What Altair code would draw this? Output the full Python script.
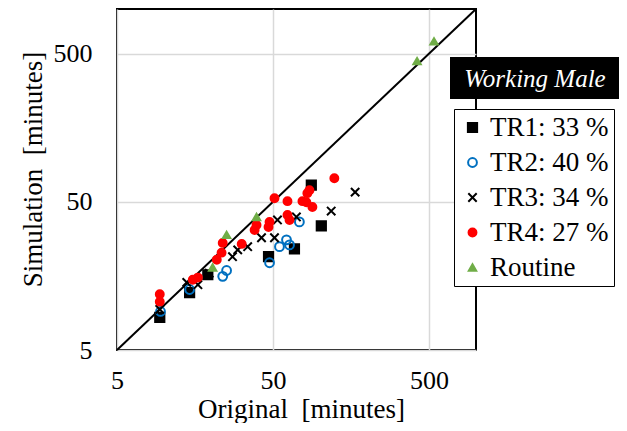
import altair as alt
import pandas as pd

# ---- data ----
series_names = ["TR1: 33 %", "TR2: 40 %", "TR3: 34 %", "TR4: 27 %", "Routine"]

tr1_x = [9.4, 14.6, 19.1, 46.8, 68.6, 88.0, 102.0]
tr1_y = [8.3, 12.2, 16.1, 21.3, 24.1, 64.7, 34.4]

tr2_x = [9.5, 14.6, 23.8, 25.2, 47.5, 55.0, 61.0, 63.8, 73.8]
tr2_y = [9.1, 12.8, 15.7, 17.2, 19.4, 24.9, 27.7, 25.6, 36.6]

tr3_x = [9.4, 14.0, 16.5, 19.5, 27.5, 29.7, 34.4, 42.2, 51.1, 53.4, 70.6, 118.0, 168.0]
tr3_y = [9.4, 14.3, 13.8, 16.5, 21.3, 23.7, 24.9, 28.6, 28.6, 37.7, 39.5, 43.3, 58.1]

tr4_x = [9.4, 9.4, 15.3, 16.5, 21.8, 23.4, 23.8, 31.5, 38.1, 39.2, 46.8, 47.5, 51.1,
         61.9, 61.9, 63.8, 77.2, 81.8, 83.0, 85.6, 89.4, 123.6]
tr4_y = [11.9, 10.6, 14.9, 15.4, 20.3, 22.7, 26.4, 26.0, 32.3, 34.9, 33.8, 36.6, 52.9,
         50.5, 40.7, 37.7, 50.5, 49.6, 57.2, 59.9, 46.1, 72.1]

routine_x = [20.5, 25.2, 39.2, 419.0, 538.0]
routine_y = [18.0, 29.9, 39.5, 445.0, 605.0]

diag = [5, 1000]
axis_ticks = [5, 50, 500]
annotation = ["Working Male"]

# ---- styles ----
shapes = ["square", "circle", "M-1,-1L1,1M1,-1L-1,1", "circle", "triangle-up"]
fills = ["black", "transparent", "black", "#FF0000", "#70AD47"]
strokes = ["black", "#0070C0", "black", "#FF0000", "#70AD47"]
sizes = [85, 55, 85, 95, 170]

rows = []
i = 0
for name, xs, ys in zip(series_names,
                        [tr1_x, tr2_x, tr3_x, tr4_x, routine_x],
                        [tr1_y, tr2_y, tr3_y, tr4_y, routine_y]):
    for xv, yv in zip(xs, ys):
        rows.append({"series": name, "orig": xv, "sim": yv, "idx": i})
        i += 1
df = pd.DataFrame(rows)
diag_df = pd.DataFrame({"orig": diag, "sim": diag})
ann_df = pd.DataFrame({"label": annotation})

FONT = "Liberation Serif, Times New Roman, serif"
x_scale = alt.Scale(type="log", domain=[5, 1000], nice=False)
y_scale = alt.Scale(type="log", domain=[5, 1000], nice=False)

x_axis = alt.Axis(values=axis_ticks, format="d", title="Original\u00a0\u00a0[minutes]",
                  ticks=False, domain=False, labelFlush=False, labelOverlap=False,
                  labelPadding=17, labelFontSize=26, labelFont=FONT, labelColor="black",
                  titleFont=FONT, titleFontSize=27, titleFontWeight="normal", titleColor="black",
                  titleX=184, titleY=67, titleBaseline="alphabetic", titleAlign="center",
                  gridColor="#D9D9D9", gridWidth=1.5)
y_axis = alt.Axis(values=axis_ticks, format="d", title="Simulation\u00a0\u00a0[minutes]",
                  ticks=False, domain=False, labelFlush=False, labelOverlap=False,
                  labelPadding=25, labelFontSize=26, labelFont=FONT, labelColor="black",
                  titleFont=FONT, titleFontSize=27, titleFontWeight="normal", titleColor="black",
                  titleX=-76, titleY=160, titleBaseline="alphabetic", titleAlign="center",
                  titleAngle=270,
                  gridColor="#D9D9D9", gridWidth=1.5)

line = alt.Chart(diag_df).mark_line(color="black", strokeWidth=2).encode(
    x=alt.X("orig:Q", scale=x_scale, axis=x_axis),
    y=alt.Y("sim:Q", scale=y_scale, axis=y_axis),
)

points = alt.Chart(df).mark_point(strokeWidth=2, opacity=1).encode(
    x=alt.X("orig:Q", scale=x_scale, axis=x_axis),
    y=alt.Y("sim:Q", scale=y_scale, axis=y_axis),
    shape=alt.Shape("series:N", scale=alt.Scale(domain=series_names, range=shapes), title=None),
    fill=alt.Fill("series:N", scale=alt.Scale(domain=series_names, range=fills), title=None),
    stroke=alt.Stroke("series:N", scale=alt.Scale(domain=series_names, range=strokes), title=None),
    size=alt.Size("series:N", scale=alt.Scale(domain=series_names, range=sizes), title=None),
    order=alt.Order("idx:Q"),
)

box = alt.Chart(ann_df).mark_rect(color="black").encode(
    x=alt.value(333), x2=alt.value(502), y=alt.value(48), y2=alt.value(90)
)
box_text = alt.Chart(ann_df).mark_text(
    font=FONT, fontSize=25, fontStyle="italic", color="white",
    align="center", baseline="alphabetic"
).encode(x=alt.value(418), y=alt.value(78), text="label:N")

chart = alt.layer(line, points, box, box_text).properties(
    width=359, height=341,
    autosize=alt.AutoSizeParams(type="none"),
    padding={"left": 109, "top": 1, "right": 143, "bottom": 73},
).configure_view(
    stroke="black", strokeWidth=2
).configure_legend(
    orient="none", legendX=337, legendY=100,
    fillColor="white", strokeColor="black", padding=5, rowPadding=7,
    labelFont=FONT, labelFontSize=27, labelColor="black", labelOffset=4,
    symbolStrokeWidth=2, symbolOpacity=1, labelLimit=300,
)

chart.save("out.html", embed_options={"renderer": "svg", "actions": False})
